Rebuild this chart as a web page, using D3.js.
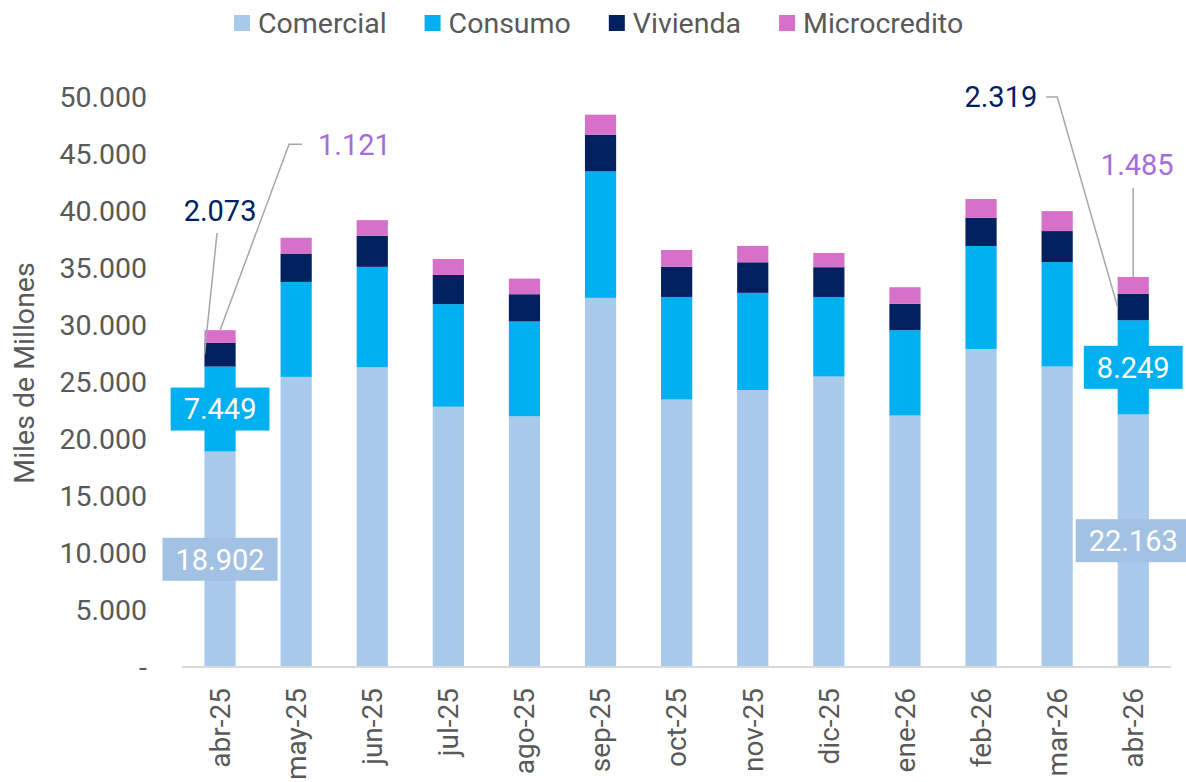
<!DOCTYPE html>
<html>
<head>
<meta charset="utf-8">
<script src="https://cdn.jsdelivr.net/npm/d3@7"></script>
<style>
  body { margin: 0; background: #fff; }
  text { font-family: Roboto, "Liberation Sans", sans-serif; }
</style>
</head>
<body>
<div id="chart"></div>
<script>
// data (miles de millones)
const months = ["abr-25","may-25","jun-25","jul-25","ago-25","sep-25","oct-25","nov-25","dic-25","ene-26","feb-26","mar-26","abr-26"];
const comercial   = [18902, 25450, 26300, 22830, 21990, 32380, 23460, 24300, 25480, 22060, 27900, 26360, 22163];
const consumo     = [7449, 8330, 8800, 9000, 8320, 11100, 9000, 8520, 6980, 7480, 9030, 9160, 8249];
const vivienda    = [2073, 2490, 2720, 2560, 2390, 3220, 2650, 2680, 2610, 2320, 2480, 2720, 2319];
const microcredito = [1121, 1380, 1380, 1400, 1370, 1750, 1470, 1440, 1250, 1450, 1640, 1750, 1485];
const seriesNames = ["Comercial", "Consumo", "Vivienda", "Microcredito"];
const yTicks = [0, 5000, 10000, 15000, 20000, 25000, 30000, 35000, 40000, 45000, 50000];

const colors = {
  Comercial: "#A9CAEB",
  Consumo: "#00B0F0",
  Vivienda: "#002060",
  Microcredito: "#D670C9"
};
const labelBox = { Comercial: "#A3C1E2", Consumo: "#00B0F0" };
const labelText = { Vivienda: "#002060", Microcredito: "#A66DD8" };

const W = 1186, H = 782;
const margin = {top: 97, right: 15, bottom: 115, left: 182};

const table = months.map((m, i) => ({
  month: m,
  Comercial: comercial[i],
  Consumo: consumo[i],
  Vivienda: vivienda[i],
  Microcredito: microcredito[i]
}));

const svg = d3.select("#chart").append("svg")
  .attr("width", W)
  .attr("height", H);

const x = d3.scaleBand()
  .domain(months)
  .range([margin.left, margin.left + 13 * 76.1])
  .paddingInner(0.59)
  .paddingOuter(0.295);

const y = d3.scaleLinear()
  .domain([0, 50000])
  .range([667, 97]);

const fmt = v => v === 0 ? "-" : d3.format(",")(v).replace(/,/g, ".");

const stack = d3.stack().keys(seriesNames)(table);

// bars
svg.append("g")
  .selectAll("g")
  .data(stack)
  .join("g")
  .attr("fill", d => colors[d.key])
  .selectAll("rect")
  .data(d => d)
  .join("rect")
  .attr("x", d => x(d.data.month))
  .attr("width", x.bandwidth())
  .attr("y", d => y(d[1]))
  .attr("height", d => y(d[0]) - y(d[1]));

// x axis line
svg.append("line")
  .attr("x1", x.range()[0]).attr("x2", x.range()[1])
  .attr("y1", y(0)).attr("y2", y(0))
  .attr("stroke", "#D9D9D9")
  .attr("stroke-width", 2);

// y axis
const yAxis = svg.append("g")
  .attr("transform", `translate(${margin.left},0)`)
  .call(d3.axisLeft(y).tickValues(yTicks).tickFormat(fmt).tickSize(0).tickPadding(35));
yAxis.select(".domain").remove();
yAxis.selectAll("text")
  .attr("font-family", "Roboto, sans-serif")
  .attr("font-size", 28.5)
  .attr("fill", "#595959");

// x axis labels
const xAxis = svg.append("g")
  .attr("transform", `translate(0,${y(0)})`)
  .call(d3.axisBottom(x).tickSize(0));
xAxis.select(".domain").remove();
xAxis.selectAll("text")
  .attr("font-family", "Roboto, sans-serif")
  .attr("font-size", 28)
  .attr("fill", "#595959")
  .attr("text-anchor", "end")
  .attr("transform", "rotate(-90)")
  .attr("x", -21)
  .attr("y", 0)
  .attr("dy", "0.35em");

// y title
svg.append("text")
  .attr("transform", `translate(34,${(y(0) + y(50000)) / 2 - 9}) rotate(-90)`)
  .attr("text-anchor", "middle")
  .attr("font-size", 28.5)
  .attr("fill", "#595959")
  .text("Miles de Millones");

// legend
const legend = svg.append("g").attr("transform", "translate(234,23)");
let lx = 0;
seriesNames.forEach(name => {
  legend.append("rect")
    .attr("x", lx).attr("y", -8)
    .attr("width", 16).attr("height", 16)
    .attr("fill", colors[name]);
  const t = legend.append("text")
    .attr("x", lx + 24).attr("y", 0)
    .attr("dy", "0.35em")
    .attr("font-size", 28.5)
    .attr("fill", "#595959")
    .text(name);
  lx += 24 + t.node().getComputedTextLength() + 38;
});

// boxed labels for Comercial and Consumo on first and last bar
const ends = [0, months.length - 1];
const boxLabels = svg.append("g");
ends.forEach(i => {
  ["Comercial", "Consumo"].forEach(key => {
    const layer = stack.find(s => s.key === key)[i];
    const cx = x(months[i]) + x.bandwidth() / 2;
    const cy = y((layer[0] + layer[1]) / 2);
    const g = boxLabels.append("g");
    const r = g.append("rect").attr("fill", labelBox[key]);
    const t = g.append("text")
      .attr("x", cx).attr("y", cy)
      .attr("dy", "0.36em")
      .attr("text-anchor", "middle")
      .attr("font-size", 29)
      .attr("fill", "#fff")
      .text(fmt(table[i][key]));
    const tw = t.node().getComputedTextLength();
    r.attr("x", cx - tw / 2 - 13).attr("width", tw + 26)
     .attr("y", cy - 21.5).attr("height", 43);
  });
});

// outside labels with leader lines for Vivienda and Microcredito
const lead = svg.append("g")
  .attr("fill", "none")
  .attr("stroke", "#A6A6A6")
  .attr("stroke-width", 1.5);
const outLabels = svg.append("g").attr("font-size", 29);

function seg(key, i) { return stack.find(s => s.key === key)[i]; }

// first bar
(function () {
  const i = 0;
  const left = x(months[i]), cx = left + x.bandwidth() / 2;
  const v = seg("Vivienda", i), m = seg("Microcredito", i);
  const vy = y((v[0] + v[1]) / 2);
  outLabels.append("text")
    .attr("x", cx).attr("y", y(v[1]) - 132)
    .attr("dy", "0.36em").attr("text-anchor", "middle")
    .attr("fill", labelText.Vivienda)
    .text(fmt(vivienda[i]));
  lead.append("path").attr("d", `M${cx - 3},${y(v[1]) - 110}L${left},${vy}`);
  const my = y(m[1]) - 186;
  outLabels.append("text")
    .attr("x", cx + 98).attr("y", my)
    .attr("dy", "0.36em").attr("text-anchor", "start")
    .attr("fill", labelText.Microcredito)
    .text(fmt(microcredito[i]));
  lead.append("path").attr("d", `M${cx + 82},${my}H${cx + 69}L${cx},${y(m[1])}`);
})();

// last bar
(function () {
  const i = months.length - 1;
  const left = x(months[i]), cx = left + x.bandwidth() / 2;
  const v = seg("Vivienda", i), m = seg("Microcredito", i);
  const vy = y((v[0] + v[1]) / 2);
  const ty = y(50000);
  outLabels.append("text")
    .attr("x", cx - 96).attr("y", ty)
    .attr("dy", "0.36em").attr("text-anchor", "end")
    .attr("fill", labelText.Vivienda)
    .text(fmt(vivienda[i]));
  lead.append("path").attr("d", `M${cx - 87},${ty}H${cx - 76}L${left},${vy}`);
  const my = y(m[1]) - 112;
  outLabels.append("text")
    .attr("x", cx + 4).attr("y", my)
    .attr("dy", "0.36em").attr("text-anchor", "middle")
    .attr("fill", labelText.Microcredito)
    .text(fmt(microcredito[i]));
  lead.append("path").attr("d", `M${cx},${my + 23}V${y(m[1])}`);
})();
</script>
</body>
</html>
